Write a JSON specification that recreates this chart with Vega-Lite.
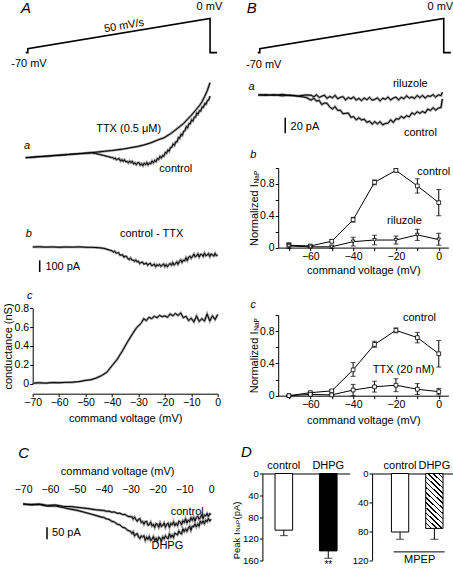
{
"$schema": "https://vega.github.io/schema/vega-lite/v6.json",
"background": "white",
"padding": {"left": 1.7, "top": 0, "right": 0, "bottom": 0},
"data": {"values": [{}]},
"config": {
  "font": "Liberation Sans",
  "view": {"stroke": null},
  "axis": {"grid": false, "domainColor": "black", "tickColor": "black", "labelColor": "black", "titleColor": "black", "titleFontWeight": "normal", "titleFontSize": 11, "labelFontSize": 10.5, "tickSize": 3, "labelFlush": false, "labelOverlap": false, "domainWidth": 1, "tickWidth": 1, "labelPadding": 1},
  "text": {"fontSize": 11, "color": "black"}
},
"datasets": {
  "ramp": [{"k":0,"t":0,"v":-79},{"k":1,"t":0.016,"v":-79},{"k":2,"t":0.016,"v":-70},{"k":3,"t":1.416,"v":0},{"k":4,"t":1.416,"v":-79},{"k":5,"t":1.47,"v":-79}],
  "aa": [
    {"V":-70,"I":0,"s":"TTX"},{"V":-67.5,"I":4,"s":"TTX"},{"V":-65,"I":9,"s":"TTX"},{"V":-62.5,"I":13,"s":"TTX"},{"V":-60,"I":17,"s":"TTX"},{"V":-57.5,"I":21,"s":"TTX"},{"V":-55,"I":25,"s":"TTX"},{"V":-52.5,"I":30,"s":"TTX"},{"V":-50,"I":34,"s":"TTX"},{"V":-47.5,"I":38,"s":"TTX"},{"V":-45,"I":43,"s":"TTX"},{"V":-42.5,"I":49,"s":"TTX"},{"V":-40,"I":55,"s":"TTX"},{"V":-37.5,"I":61,"s":"TTX"},{"V":-35,"I":68,"s":"TTX"},{"V":-32.5,"I":76,"s":"TTX"},{"V":-30,"I":86,"s":"TTX"},{"V":-27.5,"I":96,"s":"TTX"},{"V":-25,"I":109,"s":"TTX"},{"V":-22.5,"I":127,"s":"TTX"},{"V":-20,"I":150,"s":"TTX"},{"V":-17.5,"I":170,"s":"TTX"},{"V":-15,"I":205,"s":"TTX"},{"V":-12.5,"I":248,"s":"TTX"},{"V":-10,"I":293,"s":"TTX"},{"V":-8.5,"I":330,"s":"TTX"},{"V":-7,"I":365,"s":"TTX"},{"V":-5.5,"I":405,"s":"TTX"},{"V":-4,"I":445,"s":"TTX"},{"V":-3,"I":480,"s":"TTX"},{"V":-2,"I":525,"s":"TTX"},{"V":-1,"I":575,"s":"TTX"},{"V":0,"I":641,"s":"TTX"},
    {"V":-70,"I":0,"s":"control"},{"V":-67.5,"I":5,"s":"control"},{"V":-65,"I":8,"s":"control"},{"V":-62.5,"I":13,"s":"control"},{"V":-60,"I":16,"s":"control"},{"V":-57.5,"I":22,"s":"control"},{"V":-55,"I":24,"s":"control"},{"V":-52.5,"I":31,"s":"control"},{"V":-50,"I":33,"s":"control"},{"V":-47.5,"I":39,"s":"control"},{"V":-45,"I":42,"s":"control"},{"V":-43.5,"I":36,"s":"control"},{"V":-42,"I":28,"s":"control"},{"V":-40.5,"I":20,"s":"control"},{"V":-39,"I":11,"s":"control"},{"V":-37.5,"I":2,"s":"control"},
    {"V":-37,"I":2,"s":"control"},{"V":-36.5,"I":-10,"s":"control"},{"V":-36,"I":-2,"s":"control"},{"V":-35.5,"I":-18,"s":"control"},{"V":-35,"I":-11,"s":"control"},{"V":-34.5,"I":-7,"s":"control"},{"V":-34,"I":-29,"s":"control"},{"V":-33.5,"I":-17,"s":"control"},{"V":-33,"I":-31,"s":"control"},{"V":-32.5,"I":-17,"s":"control"},{"V":-32,"I":-35,"s":"control"},{"V":-31.5,"I":-31,"s":"control"},{"V":-31,"I":-45,"s":"control"},{"V":-30.5,"I":-28,"s":"control"},{"V":-30,"I":-42,"s":"control"},{"V":-29.5,"I":-30,"s":"control"},{"V":-29,"I":-53,"s":"control"},{"V":-28.5,"I":-44,"s":"control"},{"V":-28,"I":-60,"s":"control"},{"V":-27.5,"I":-43,"s":"control"},{"V":-27,"I":-41,"s":"control"},{"V":-26.5,"I":-64,"s":"control"},{"V":-26,"I":-51,"s":"control"},{"V":-25.5,"I":-69,"s":"control"},{"V":-25,"I":-47,"s":"control"},{"V":-24.5,"I":-59,"s":"control"},{"V":-24,"I":-41,"s":"control"},{"V":-23.5,"I":-62,"s":"control"},{"V":-23,"I":-45,"s":"control"},{"V":-22.5,"I":-52,"s":"control"},{"V":-22,"I":-28,"s":"control"},{"V":-21.5,"I":-44,"s":"control"},{"V":-21,"I":-22,"s":"control"},{"V":-20.5,"I":-34,"s":"control"},{"V":-20,"I":-7,"s":"control"},{"V":-19.5,"I":-15,"s":"control"},{"V":-19,"I":11,"s":"control"},{"V":-18.5,"I":-3,"s":"control"},{"V":-18,"I":19,"s":"control"},{"V":-17.5,"I":13,"s":"control"},{"V":-17,"I":46,"s":"control"},{"V":-16.5,"I":38,"s":"control"},{"V":-16,"I":66,"s":"control"},{"V":-15.5,"I":55,"s":"control"},{"V":-15,"I":88,"s":"control"},{"V":-14.5,"I":88,"s":"control"},{"V":-14,"I":118,"s":"control"},{"V":-13.5,"I":105,"s":"control"},{"V":-13,"I":136,"s":"control"},{"V":-12.5,"I":135,"s":"control"},{"V":-12,"I":173,"s":"control"},{"V":-11.5,"I":167,"s":"control"},{"V":-11,"I":201,"s":"control"},{"V":-10.5,"I":191,"s":"control"},{"V":-10,"I":227,"s":"control"},{"V":-9.5,"I":230,"s":"control"},{"V":-9,"I":266,"s":"control"},{"V":-8.5,"I":255,"s":"control"},{"V":-8,"I":291,"s":"control"},{"V":-7.5,"I":289,"s":"control"},{"V":-7,"I":324,"s":"control"},{"V":-6.5,"I":313,"s":"control"},{"V":-6,"I":346,"s":"control"},{"V":-5.5,"I":346,"s":"control"},{"V":-5,"I":383,"s":"control"},{"V":-4.5,"I":372,"s":"control"},{"V":-4,"I":403,"s":"control"},{"V":-3.5,"I":398,"s":"control"},{"V":-3,"I":434,"s":"control"},{"V":-2.5,"I":430,"s":"control"},{"V":-2,"I":463,"s":"control"},{"V":-1.5,"I":456,"s":"control"},{"V":-1,"I":489,"s":"control"},{"V":-0.5,"I":491,"s":"control"},{"V":0,"I":527,"s":"control"}
  ],
  "ab": [
    {"V":-70,"I":0},{"V":-67.5,"I":2},{"V":-65,"I":-1},{"V":-62.5,"I":1},{"V":-60,"I":-2},{"V":-57.5,"I":0},{"V":-55,"I":-1},{"V":-52.5,"I":1},{"V":-50,"I":-2},{"V":-47.5,"I":-3},{"V":-45,"I":-6},{"V":-43,"I":-12},{"V":-41.5,"I":-22},
    {"V":-40,"I":-32},{"V":-39.5,"I":-42},{"V":-39,"I":-35},{"V":-38.5,"I":-53},{"V":-38,"I":-50},{"V":-37.5,"I":-48},{"V":-37,"I":-70},{"V":-36.5,"I":-69},{"V":-36,"I":-66},{"V":-35.5,"I":-87},{"V":-35,"I":-79},{"V":-34.5,"I":-80},{"V":-34,"I":-99},{"V":-33.5,"I":-108},{"V":-33,"I":-93},{"V":-32.5,"I":-112},{"V":-32,"I":-111},{"V":-31.5,"I":-123},{"V":-31,"I":-110},{"V":-30.5,"I":-127},{"V":-30,"I":-122},{"V":-29.5,"I":-142},{"V":-29,"I":-132},{"V":-28.5,"I":-128},{"V":-28,"I":-146},{"V":-27.5,"I":-144},{"V":-27,"I":-137},{"V":-26.5,"I":-156},{"V":-26,"I":-145},{"V":-25.5,"I":-139},{"V":-25,"I":-159},{"V":-24.5,"I":-157},{"V":-24,"I":-145},{"V":-23.5,"I":-168},{"V":-23,"I":-152},{"V":-22.5,"I":-160},{"V":-22,"I":-149},{"V":-21.5,"I":-166},{"V":-21,"I":-155},{"V":-20.5,"I":-145},{"V":-20,"I":-167},{"V":-19.5,"I":-150},{"V":-19,"I":-169},{"V":-18.5,"I":-150},{"V":-18,"I":-141},{"V":-17.5,"I":-156},{"V":-17,"I":-133},{"V":-16.5,"I":-154},{"V":-16,"I":-144},{"V":-15.5,"I":-127},{"V":-15,"I":-148},{"V":-14.5,"I":-124},{"V":-14,"I":-110},{"V":-13.5,"I":-132},{"V":-13,"I":-113},{"V":-12.5,"I":-119},{"V":-12,"I":-91},{"V":-11.5,"I":-115},{"V":-11,"I":-88},{"V":-10.5,"I":-79},{"V":-10,"I":-96},{"V":-9.5,"I":-79},{"V":-9,"I":-60},{"V":-8.5,"I":-84},{"V":-8,"I":-76},{"V":-7.5,"I":-58},{"V":-7,"I":-86},{"V":-6.5,"I":-62},{"V":-6,"I":-64},{"V":-5.5,"I":-81},{"V":-5,"I":-53},{"V":-4.5,"I":-75},{"V":-4,"I":-69},{"V":-3.5,"I":-56},{"V":-3,"I":-82},{"V":-2.5,"I":-59},{"V":-2,"I":-65},{"V":-1.5,"I":-78},{"V":-1,"I":-54},{"V":-0.5,"I":-74},{"V":0,"I":-68}
  ],
  "ac": [
    {"V":-70,"g":0.005},{"V":-67.5,"g":0.01},{"V":-65,"g":0.006},{"V":-62.5,"g":0.012},{"V":-60,"g":0.01},{"V":-57.5,"g":0.014},{"V":-55,"g":0.016},{"V":-52.5,"g":0.022},{"V":-50,"g":0.035},{"V":-48,"g":0.042},{"V":-46,"g":0.06},{"V":-44,"g":0.085},{"V":-42,"g":0.12},{"V":-40,"g":0.19},{"V":-38,"g":0.26},{"V":-36,"g":0.35},{"V":-34,"g":0.45},{"V":-32,"g":0.54},{"V":-30.5,"g":0.6},{"V":-29,"g":0.64},{"V":-28,"g":0.69},{"V":-27,"g":0.67},{"V":-26,"g":0.705},{"V":-25,"g":0.69},{"V":-24,"g":0.715},{"V":-23,"g":0.7},{"V":-22,"g":0.725},{"V":-21,"g":0.71},{"V":-20,"g":0.72},{"V":-19,"g":0.705},{"V":-18,"g":0.74},{"V":-17,"g":0.72},{"V":-16,"g":0.745},{"V":-15,"g":0.725},{"V":-14,"g":0.75},{"V":-13,"g":0.7},{"V":-12,"g":0.715},{"V":-11,"g":0.67},{"V":-10,"g":0.695},{"V":-9,"g":0.655},{"V":-8,"g":0.72},{"V":-7,"g":0.66},{"V":-6,"g":0.69},{"V":-5,"g":0.665},{"V":-4,"g":0.74},{"V":-3,"g":0.665},{"V":-2,"g":0.72},{"V":-1,"g":0.68},{"V":0,"g":0.735}
  ],
  "ba": [
    {"V":-70,"I":0,"s":"riluzole"},{"V":-67,"I":0.5,"s":"riluzole"},{"V":-64,"I":-0.5,"s":"riluzole"},{"V":-61,"I":0.8,"s":"riluzole"},{"V":-58,"I":-0.7,"s":"riluzole"},{"V":-55,"I":-1.3,"s":"riluzole"},{"V":-52,"I":0,"s":"riluzole"},
    {"V":-50,"I":-0.3,"s":"riluzole"},{"V":-49,"I":-2.4,"s":"riluzole"},{"V":-48,"I":0.3,"s":"riluzole"},{"V":-47,"I":-3.3,"s":"riluzole"},{"V":-46,"I":-1.6,"s":"riluzole"},{"V":-45,"I":-0.2,"s":"riluzole"},{"V":-44,"I":-4.4,"s":"riluzole"},{"V":-43,"I":-1.8,"s":"riluzole"},{"V":-42,"I":-3.6,"s":"riluzole"},{"V":-41,"I":-0.4,"s":"riluzole"},{"V":-40,"I":-4.8,"s":"riluzole"},{"V":-39,"I":-3.1,"s":"riluzole"},{"V":-38,"I":-2.1,"s":"riluzole"},{"V":-37,"I":-6.4,"s":"riluzole"},{"V":-36,"I":-3.2,"s":"riluzole"},{"V":-35,"I":-4.9,"s":"riluzole"},{"V":-34,"I":-2.5,"s":"riluzole"},{"V":-33,"I":-6.5,"s":"riluzole"},{"V":-32,"I":-4.3,"s":"riluzole"},{"V":-31,"I":-7.3,"s":"riluzole"},{"V":-30,"I":-3.8,"s":"riluzole"},{"V":-29,"I":-6.1,"s":"riluzole"},{"V":-28,"I":-3,"s":"riluzole"},{"V":-27,"I":-6.7,"s":"riluzole"},{"V":-26,"I":-5.7,"s":"riluzole"},{"V":-25,"I":-3.6,"s":"riluzole"},{"V":-24,"I":-7.6,"s":"riluzole"},{"V":-23,"I":-4,"s":"riluzole"},{"V":-22,"I":-5.6,"s":"riluzole"},{"V":-21,"I":-2.6,"s":"riluzole"},{"V":-20,"I":-6.4,"s":"riluzole"},{"V":-19,"I":-3.8,"s":"riluzole"},{"V":-18,"I":-2.7,"s":"riluzole"},{"V":-17,"I":-6.3,"s":"riluzole"},{"V":-16,"I":-2.8,"s":"riluzole"},{"V":-15,"I":-4.8,"s":"riluzole"},{"V":-14,"I":-1,"s":"riluzole"},{"V":-13,"I":-4,"s":"riluzole"},{"V":-12,"I":-2.5,"s":"riluzole"},{"V":-11,"I":-4.4,"s":"riluzole"},{"V":-10,"I":-0.5,"s":"riluzole"},{"V":-9,"I":-3.4,"s":"riluzole"},{"V":-8,"I":-0.5,"s":"riluzole"},{"V":-7,"I":-4,"s":"riluzole"},{"V":-6,"I":-1,"s":"riluzole"},{"V":-5,"I":-1.8,"s":"riluzole"},{"V":-4,"I":0.5,"s":"riluzole"},{"V":-3,"I":-2.7,"s":"riluzole"},{"V":-2,"I":0.2,"s":"riluzole"},{"V":-1,"I":-0.8,"s":"riluzole"},{"V":-0.5,"I":3.5,"s":"riluzole"},
    {"V":-70,"I":0,"s":"control"},{"V":-67,"I":-0.5,"s":"control"},{"V":-64,"I":0.5,"s":"control"},{"V":-61,"I":-1,"s":"control"},{"V":-58,"I":0,"s":"control"},{"V":-55,"I":-1.5,"s":"control"},{"V":-52,"I":-3,"s":"control"},
    {"V":-50,"I":-6.5,"s":"control"},{"V":-49,"I":-4,"s":"control"},{"V":-48,"I":-7.8,"s":"control"},{"V":-47,"I":-7,"s":"control"},{"V":-46,"I":-12.2,"s":"control"},{"V":-45,"I":-10.2,"s":"control"},{"V":-44,"I":-10.7,"s":"control"},{"V":-43,"I":-15.4,"s":"control"},{"V":-42,"I":-17.9,"s":"control"},{"V":-41,"I":-14.9,"s":"control"},{"V":-40,"I":-19.7,"s":"control"},{"V":-39,"I":-19.5,"s":"control"},{"V":-38,"I":-24.1,"s":"control"},{"V":-37,"I":-23.5,"s":"control"},{"V":-36,"I":-23.1,"s":"control"},{"V":-35,"I":-28.6,"s":"control"},{"V":-34,"I":-27.6,"s":"control"},{"V":-33,"I":-31.9,"s":"control"},{"V":-32,"I":-29.2,"s":"control"},{"V":-31,"I":-32,"s":"control"},{"V":-30,"I":-31,"s":"control"},{"V":-29,"I":-35.1,"s":"control"},{"V":-28,"I":-33.5,"s":"control"},{"V":-27,"I":-37.3,"s":"control"},{"V":-26,"I":-34.1,"s":"control"},{"V":-25,"I":-37,"s":"control"},{"V":-24,"I":-34.1,"s":"control"},{"V":-23,"I":-38.3,"s":"control"},{"V":-22,"I":-36.4,"s":"control"},{"V":-21,"I":-36.3,"s":"control"},{"V":-20,"I":-31.9,"s":"control"},{"V":-19,"I":-35.1,"s":"control"},{"V":-18,"I":-30.4,"s":"control"},{"V":-17,"I":-31,"s":"control"},{"V":-16,"I":-27.4,"s":"control"},{"V":-15,"I":-29.7,"s":"control"},{"V":-14,"I":-26.5,"s":"control"},{"V":-13,"I":-28,"s":"control"},{"V":-12,"I":-22.8,"s":"control"},{"V":-11,"I":-24.9,"s":"control"},{"V":-10,"I":-21.5,"s":"control"},{"V":-9,"I":-23.5,"s":"control"},{"V":-8,"I":-21,"s":"control"},{"V":-7,"I":-23,"s":"control"},{"V":-6,"I":-17.9,"s":"control"},{"V":-5,"I":-19.8,"s":"control"},{"V":-4,"I":-16.2,"s":"control"},{"V":-3,"I":-19.5,"s":"control"},{"V":-2,"I":-16.8,"s":"control"},{"V":-1,"I":-16,"s":"control"},{"V":-0.5,"I":-5,"s":"control"}
  ],
  "bb": [
    {"V":-70,"m":0.03,"lo":0.01,"hi":0.05,"s":"control"},{"V":-60,"m":0.02,"lo":0.01,"hi":0.03,"s":"control"},{"V":-50,"m":0.08,"lo":0.06,"hi":0.1,"s":"control"},{"V":-40,"m":0.35,"lo":0.32,"hi":0.38,"s":"control"},{"V":-30,"m":0.82,"lo":0.79,"hi":0.85,"s":"control"},{"V":-20,"m":0.97,"lo":0.95,"hi":0.99,"s":"control"},{"V":-10,"m":0.775,"lo":0.685,"hi":0.865,"s":"control"},{"V":0,"m":0.565,"lo":0.4,"hi":0.73,"s":"control"},
    {"V":-70,"m":0.02,"lo":-0.01,"hi":0.06,"s":"riluzole"},{"V":-60,"m":0.01,"lo":0,"hi":0.02,"s":"riluzole"},{"V":-50,"m":0.01,"lo":-0.01,"hi":0.03,"s":"riluzole"},{"V":-40,"m":0.075,"lo":0.02,"hi":0.13,"s":"riluzole"},{"V":-30,"m":0.095,"lo":0.035,"hi":0.155,"s":"riluzole"},{"V":-20,"m":0.095,"lo":0.045,"hi":0.145,"s":"riluzole"},{"V":-10,"m":0.16,"lo":0.09,"hi":0.23,"s":"riluzole"},{"V":0,"m":0.1,"lo":0.03,"hi":0.18,"s":"riluzole"}
  ],
  "bc": [
    {"V":-70,"m":0,"lo":0,"hi":0,"s":"control"},{"V":-60,"m":0.037,"lo":0.02,"hi":0.055,"s":"control"},{"V":-50,"m":0.06,"lo":0.05,"hi":0.07,"s":"control"},{"V":-40,"m":0.32,"lo":0.24,"hi":0.41,"s":"control"},{"V":-30,"m":0.635,"lo":0.6,"hi":0.675,"s":"control"},{"V":-20,"m":0.81,"lo":0.78,"hi":0.84,"s":"control"},{"V":-10,"m":0.72,"lo":0.655,"hi":0.785,"s":"control"},{"V":0,"m":0.52,"lo":0.355,"hi":0.685,"s":"control"},
    {"V":-70,"m":0,"lo":0,"hi":0,"s":"TTX"},{"V":-60,"m":0.016,"lo":0.005,"hi":0.025,"s":"TTX"},{"V":-50,"m":0.01,"lo":0,"hi":0.02,"s":"TTX"},{"V":-40,"m":0.07,"lo":0,"hi":0.14,"s":"TTX"},{"V":-30,"m":0.11,"lo":0.045,"hi":0.18,"s":"TTX"},{"V":-20,"m":0.13,"lo":0.05,"hi":0.21,"s":"TTX"},{"V":-10,"m":0.08,"lo":0.015,"hi":0.15,"s":"TTX"},{"V":0,"m":0.05,"lo":0.01,"hi":0.09,"s":"TTX"}
  ],
  "cc": [
    {"V":-70,"I":0,"s":"control"},{"V":-67,"I":-2,"s":"control"},{"V":-64,"I":0,"s":"control"},{"V":-61,"I":-6,"s":"control"},{"V":-58,"I":-4,"s":"control"},{"V":-55,"I":-10,"s":"control"},{"V":-52,"I":-11,"s":"control"},{"V":-49,"I":-15,"s":"control"},{"V":-46,"I":-19,"s":"control"},{"V":-43,"I":-24,"s":"control"},{"V":-40,"I":-27,"s":"control"},{"V":-39,"I":-30,"s":"control"},{"V":-38,"I":-30,"s":"control"},{"V":-37,"I":-34,"s":"control"},{"V":-36,"I":-33,"s":"control"},{"V":-35,"I":-39,"s":"control"},{"V":-34,"I":-38,"s":"control"},{"V":-33,"I":-44,"s":"control"},{"V":-32,"I":-44,"s":"control"},{"V":-31,"I":-51,"s":"control"},{"V":-30,"I":-53,"s":"control"},
    {"V":-29.5,"I":-53,"s":"control"},{"V":-29,"I":-63,"s":"control"},{"V":-28.5,"I":-54,"s":"control"},{"V":-28,"I":-64.5,"s":"control"},{"V":-27.5,"I":-72,"s":"control"},{"V":-27,"I":-63,"s":"control"},{"V":-26.5,"I":-61,"s":"control"},{"V":-26,"I":-77.5,"s":"control"},{"V":-25.5,"I":-73,"s":"control"},{"V":-25,"I":-85,"s":"control"},{"V":-24.5,"I":-73,"s":"control"},{"V":-24,"I":-72.5,"s":"control"},{"V":-23.5,"I":-89,"s":"control"},{"V":-23,"I":-86,"s":"control"},{"V":-22.5,"I":-75,"s":"control"},{"V":-22,"I":-91.5,"s":"control"},{"V":-21.5,"I":-85,"s":"control"},{"V":-21,"I":-98,"s":"control"},{"V":-20.5,"I":-82,"s":"control"},{"V":-20,"I":-84.5,"s":"control"},{"V":-19.5,"I":-97,"s":"control"},{"V":-19,"I":-79,"s":"control"},{"V":-18.5,"I":-94,"s":"control"},{"V":-18,"I":-89.5,"s":"control"},{"V":-17.5,"I":-79,"s":"control"},{"V":-17,"I":-97,"s":"control"},{"V":-16.5,"I":-84.5,"s":"control"},{"V":-16,"I":-80,"s":"control"},{"V":-15.5,"I":-97.5,"s":"control"},{"V":-15,"I":-81,"s":"control"},{"V":-14.5,"I":-87,"s":"control"},{"V":-14,"I":-74,"s":"control"},{"V":-13.5,"I":-90,"s":"control"},{"V":-13,"I":-81,"s":"control"},{"V":-12.5,"I":-90,"s":"control"},{"V":-12,"I":-71.5,"s":"control"},{"V":-11.5,"I":-74,"s":"control"},{"V":-11,"I":-87,"s":"control"},{"V":-10.5,"I":-69.5,"s":"control"},{"V":-10,"I":-77,"s":"control"},{"V":-9.5,"I":-61.5,"s":"control"},{"V":-9,"I":-79,"s":"control"},{"V":-8.5,"I":-67,"s":"control"},{"V":-8,"I":-73.5,"s":"control"},{"V":-7.5,"I":-57,"s":"control"},{"V":-7,"I":-68,"s":"control"},{"V":-6.5,"I":-55.5,"s":"control"},{"V":-6,"I":-71,"s":"control"},{"V":-5.5,"I":-56.5,"s":"control"},{"V":-5,"I":-50,"s":"control"},{"V":-4.5,"I":-63.5,"s":"control"},{"V":-4,"I":-57,"s":"control"},{"V":-3.5,"I":-43.5,"s":"control"},{"V":-3,"I":-61,"s":"control"},{"V":-2.5,"I":-45.5,"s":"control"},{"V":-2,"I":-50,"s":"control"},{"V":-1.5,"I":-39.5,"s":"control"},{"V":-1,"I":-52,"s":"control"},{"V":-0.5,"I":-40.5,"s":"control"},{"V":0,"I":-43,"s":"control"},
    {"V":-70,"I":0,"s":"DHPG"},{"V":-67,"I":-4,"s":"DHPG"},{"V":-64,"I":-2,"s":"DHPG"},{"V":-61,"I":-9,"s":"DHPG"},{"V":-58,"I":-8,"s":"DHPG"},{"V":-55,"I":-15,"s":"DHPG"},{"V":-53,"I":-20,"s":"DHPG"},{"V":-50,"I":-26,"s":"DHPG"},{"V":-47,"I":-35,"s":"DHPG"},{"V":-44,"I":-44,"s":"DHPG"},{"V":-41,"I":-54,"s":"DHPG"},{"V":-40,"I":-56,"s":"DHPG"},{"V":-39,"I":-62,"s":"DHPG"},{"V":-38,"I":-64,"s":"DHPG"},{"V":-37,"I":-72,"s":"DHPG"},{"V":-36,"I":-75,"s":"DHPG"},{"V":-35,"I":-84,"s":"DHPG"},{"V":-34,"I":-87,"s":"DHPG"},{"V":-33,"I":-97,"s":"DHPG"},{"V":-32,"I":-100,"s":"DHPG"},{"V":-31,"I":-110,"s":"DHPG"},{"V":-30,"I":-114,"s":"DHPG"},
    {"V":-29.5,"I":-123,"s":"DHPG"},{"V":-29,"I":-116,"s":"DHPG"},{"V":-28.5,"I":-133,"s":"DHPG"},{"V":-28,"I":-126,"s":"DHPG"},{"V":-27.5,"I":-123.5,"s":"DHPG"},{"V":-27,"I":-137.5,"s":"DHPG"},{"V":-26.5,"I":-144,"s":"DHPG"},{"V":-26,"I":-133,"s":"DHPG"},{"V":-25.5,"I":-137.5,"s":"DHPG"},{"V":-25,"I":-132,"s":"DHPG"},{"V":-24.5,"I":-151.5,"s":"DHPG"},{"V":-24,"I":-138,"s":"DHPG"},{"V":-23.5,"I":-147,"s":"DHPG"},{"V":-23,"I":-135.5,"s":"DHPG"},{"V":-22.5,"I":-152.5,"s":"DHPG"},{"V":-22,"I":-147,"s":"DHPG"},{"V":-21.5,"I":-136,"s":"DHPG"},{"V":-21,"I":-152,"s":"DHPG"},{"V":-20.5,"I":-143,"s":"DHPG"},{"V":-20,"I":-155,"s":"DHPG"},{"V":-19.5,"I":-138.5,"s":"DHPG"},{"V":-19,"I":-143,"s":"DHPG"},{"V":-18.5,"I":-155,"s":"DHPG"},{"V":-18,"I":-137,"s":"DHPG"},{"V":-17.5,"I":-145.5,"s":"DHPG"},{"V":-17,"I":-132,"s":"DHPG"},{"V":-16.5,"I":-140.5,"s":"DHPG"},{"V":-16,"I":-145,"s":"DHPG"},{"V":-15.5,"I":-124,"s":"DHPG"},{"V":-15,"I":-138.5,"s":"DHPG"},{"V":-14.5,"I":-129,"s":"DHPG"},{"V":-14,"I":-140,"s":"DHPG"},{"V":-13.5,"I":-121,"s":"DHPG"},{"V":-13,"I":-124.5,"s":"DHPG"},{"V":-12.5,"I":-129,"s":"DHPG"},{"V":-12,"I":-112,"s":"DHPG"},{"V":-11.5,"I":-121.5,"s":"DHPG"},{"V":-11,"I":-125,"s":"DHPG"},{"V":-10.5,"I":-103.5,"s":"DHPG"},{"V":-10,"I":-115,"s":"DHPG"},{"V":-9.5,"I":-103.5,"s":"DHPG"},{"V":-9,"I":-114,"s":"DHPG"},{"V":-8.5,"I":-101.5,"s":"DHPG"},{"V":-8,"I":-92,"s":"DHPG"},{"V":-7.5,"I":-109.5,"s":"DHPG"},{"V":-7,"I":-92,"s":"DHPG"},{"V":-6.5,"I":-94.5,"s":"DHPG"},{"V":-6,"I":-83,"s":"DHPG"},{"V":-5.5,"I":-95.5,"s":"DHPG"},{"V":-5,"I":-83,"s":"DHPG"},{"V":-4.5,"I":-92.5,"s":"DHPG"},{"V":-4,"I":-71,"s":"DHPG"},{"V":-3.5,"I":-80.5,"s":"DHPG"},{"V":-3,"I":-70.5,"s":"DHPG"},{"V":-2.5,"I":-82,"s":"DHPG"},{"V":-2,"I":-67,"s":"DHPG"},{"V":-1.5,"I":-73.5,"s":"DHPG"},{"V":-1,"I":-60.5,"s":"DHPG"},{"V":-0.5,"I":-71,"s":"DHPG"},{"V":0,"I":-63,"s":"DHPG"}
  ],
  "d1": [{"cond":"control","val":104,"hi":114},{"cond":"DHPG","val":142,"hi":155.5}],
  "d2": [{"cond":"control","val":81,"hi":91},{"cond":"DHPG","val":76,"hi":91}]
},
"spacing": 18.5,
"vconcat": [
 {"hconcat": [
  {"vconcat": [
   {"width": 185, "height": 65, "layer": [
     {"data": {"name": "ramp"}, "mark": {"type": "line", "color": "black", "strokeWidth": 1.6},
      "encoding": {"x": {"field": "t", "type": "quantitative", "scale": {"domain": [0, 1.5], "range": [-7, 188.3], "nice": false, "zero": false}, "axis": null},
                   "y": {"field": "v", "type": "quantitative", "scale": {"domain": [-109.8, 40], "nice": false, "zero": false}, "axis": null},
                   "order": {"field": "k", "type": "quantitative"}}},
     {"mark": {"type": "text", "text": "A", "fontSize": 15, "fontStyle": "italic", "align": "center", "baseline": "middle"}, "encoding": {"x": {"datum": 0.002, "axis": null}, "y": {"datum": 24.6, "axis": null}}},
     {"mark": {"type": "text", "text": "0 mV", "align": "center", "baseline": "middle"}, "encoding": {"x": {"datum": 1.411, "axis": null}, "y": {"datum": 26, "axis": null}}},
     {"mark": {"type": "text", "text": "-70 mV", "align": "center", "baseline": "middle"}, "encoding": {"x": {"datum": 0.025, "axis": null}, "y": {"datum": -105.9, "axis": null}}},
     {"mark": {"type": "text", "text": "50 mV/s", "align": "center", "baseline": "middle", "angle": 350.5}, "encoding": {"x": {"datum": 0.755, "axis": null}, "y": {"datum": -17.6, "axis": null}}}
   ]},
   {"width": 185, "height": 135, "layer": [
     {"data": {"name": "aa"}, "mark": {"type": "line", "color": "#8f8f8f", "strokeWidth": 2.4},
      "encoding": {"x": {"field": "V", "type": "quantitative", "scale": {"domain": [-70, 0], "range": [-7, 177.3], "nice": false, "zero": false}, "axis": null},
                   "y": {"field": "I", "type": "quantitative", "scale": {"domain": [-370, 783.8], "nice": false, "zero": false}, "axis": null},
                   "detail": {"field": "s"}}},
     {"data": {"name": "aa"}, "mark": {"type": "line", "color": "black", "strokeWidth": 1},
      "encoding": {"x": {"field": "V", "type": "quantitative", "axis": null}, "y": {"field": "I", "type": "quantitative", "axis": null}, "detail": {"field": "s"}}},
     {"mark": {"type": "text", "text": "a", "fontStyle": "italic", "align": "center", "baseline": "middle"}, "encoding": {"x": {"datum": -69.5, "axis": null}, "y": {"datum": 100, "axis": null}}},
     {"mark": {"type": "text", "text": "TTX (0.5 μM)", "align": "center", "baseline": "middle"}, "encoding": {"x": {"datum": -30.9, "axis": null}, "y": {"datum": 245, "axis": null}}},
     {"mark": {"type": "text", "text": "control", "align": "center", "baseline": "middle"}, "encoding": {"x": {"datum": -13, "axis": null}, "y": {"datum": -99, "axis": null}}}
   ]},
   {"width": 185, "height": 90, "layer": [
     {"data": {"name": "ab"}, "mark": {"type": "line", "color": "#8f8f8f", "strokeWidth": 2.4},
      "encoding": {"x": {"field": "V", "type": "quantitative", "scale": {"domain": [-70, 0], "nice": false, "zero": false}, "axis": null},
                   "y": {"field": "I", "type": "quantitative", "scale": {"domain": [-376.1, 393.2], "nice": false, "zero": false}, "axis": null}}},
     {"data": {"name": "ab"}, "mark": {"type": "line", "color": "black", "strokeWidth": 1},
      "encoding": {"x": {"field": "V", "type": "quantitative", "axis": null}, "y": {"field": "I", "type": "quantitative", "axis": null}}},
     {"mark": {"type": "rule", "color": "black", "strokeWidth": 1.5}, "encoding": {"x": {"datum": -67.35, "axis": null}, "y": {"datum": -113.7, "axis": null}, "y2": {"datum": -213.7}}},
     {"mark": {"type": "text", "text": "b", "fontStyle": "italic", "align": "center", "baseline": "middle"}, "encoding": {"x": {"datum": -71.5, "axis": null}, "y": {"datum": 108.5, "axis": null}}},
     {"mark": {"type": "text", "text": "control - TTX", "align": "center", "baseline": "middle"}, "encoding": {"x": {"datum": -25, "axis": null}, "y": {"datum": 108.5, "axis": null}}},
     {"mark": {"type": "text", "text": "100 pA", "align": "left", "baseline": "middle"}, "encoding": {"x": {"datum": -65.2, "axis": null}, "y": {"datum": -171, "axis": null}}}
   ]},
   {"width": 185, "height": 102.7, "resolve": {"axis": {"x": "independent", "y": "independent"}}, "layer": [
     {"data": {"name": "ac"}, "mark": {"type": "line", "color": "#8f8f8f", "strokeWidth": 2.4},
      "encoding": {"x": {"field": "V", "type": "quantitative", "scale": {"domain": [-70, 0], "nice": false, "zero": false}, "axis": {"values": [-70, -60, -50, -40, -30, -20, -10, 0], "title": "command voltage (mV)", "titlePadding": 4}},
                   "y": {"field": "g", "type": "quantitative", "scale": {"domain": [0, 0.8], "range": [92.7, 17.3], "nice": false, "zero": false}, "axis": {"values": [0, 0.2, 0.4, 0.6, 0.8], "format": ".1~f", "title": "conductance (nS)", "titlePadding": 1}}}},
     {"data": {"name": "ac"}, "mark": {"type": "line", "color": "black", "strokeWidth": 1},
      "encoding": {"x": {"field": "V", "type": "quantitative", "axis": null}, "y": {"field": "g", "type": "quantitative", "axis": null}}},
     {"mark": {"type": "text", "text": "c", "fontStyle": "italic", "align": "center", "baseline": "middle"}, "encoding": {"x": {"datum": -71.1, "axis": null}, "y": {"datum": 0.93, "axis": null}}}
   ]}
  ], "spacing": 0, "bounds": "flush"},
  {"vconcat": [
   {"width": 170.2, "height": 75, "layer": [
     {"data": {"name": "ramp"}, "mark": {"type": "line", "color": "black", "strokeWidth": 1.6},
      "encoding": {"x": {"field": "t", "type": "quantitative", "scale": {"domain": [0, 1.5], "range": [-20.5, 176.6], "nice": false, "zero": false}, "axis": null},
                   "y": {"field": "v", "type": "quantitative", "scale": {"domain": [-132.8, 40], "nice": false, "zero": false}, "axis": null},
                   "order": {"field": "k", "type": "quantitative"}}},
     {"mark": {"type": "text", "text": "B", "fontSize": 15, "fontStyle": "italic", "align": "center", "baseline": "middle"}, "encoding": {"x": {"datum": -0.046, "axis": null}, "y": {"datum": 24.6, "axis": null}}},
     {"mark": {"type": "text", "text": "0 mV", "align": "center", "baseline": "middle"}, "encoding": {"x": {"datum": 1.39, "axis": null}, "y": {"datum": 26, "axis": null}}},
     {"mark": {"type": "text", "text": "-70 mV", "align": "center", "baseline": "middle"}, "encoding": {"x": {"datum": 0.046, "axis": null}, "y": {"datum": -107.5, "axis": null}}}
   ]},
   {"width": 170.2, "height": 91.7, "layer": [
     {"data": {"name": "ba"}, "mark": {"type": "line", "color": "#8f8f8f", "strokeWidth": 2.4},
      "encoding": {"x": {"field": "V", "type": "quantitative", "scale": {"domain": [-70, 0], "range": [-20, 165.5], "nice": false, "zero": false}, "axis": null},
                   "y": {"field": "I", "type": "quantitative", "scale": {"domain": [-93.2, 24.36], "nice": false, "zero": false}, "axis": null},
                   "detail": {"field": "s"}}},
     {"data": {"name": "ba"}, "mark": {"type": "line", "color": "black", "strokeWidth": 1},
      "encoding": {"x": {"field": "V", "type": "quantitative", "axis": null}, "y": {"field": "I", "type": "quantitative", "axis": null}, "detail": {"field": "s"}}},
     {"mark": {"type": "rule", "color": "black", "strokeWidth": 1.5}, "encoding": {"x": {"datum": -59.8, "axis": null}, "y": {"datum": -29.1, "axis": null}, "y2": {"datum": -49.1}}},
     {"mark": {"type": "text", "text": "a", "fontStyle": "italic", "align": "center", "baseline": "middle"}, "encoding": {"x": {"datum": -72.5, "axis": null}, "y": {"datum": 10.3, "axis": null}}},
     {"mark": {"type": "text", "text": "riluzole", "align": "center", "baseline": "middle"}, "encoding": {"x": {"datum": -12.6, "axis": null}, "y": {"datum": 13.7, "axis": null}}},
     {"mark": {"type": "text", "text": "control", "align": "center", "baseline": "middle"}, "encoding": {"x": {"datum": -8.8, "axis": null}, "y": {"datum": -48.3, "axis": null}}},
     {"mark": {"type": "text", "text": "20 pA", "align": "left", "baseline": "middle"}, "encoding": {"x": {"datum": -57.8, "axis": null}, "y": {"datum": -40.6, "axis": null}}}
   ]},
   {"width": 170.2, "height": 79.6, "resolve": {"axis": {"x": "independent", "y": "independent"}}, "layer": [
     {"data": {"name": "bb"}, "mark": {"type": "line", "color": "black", "strokeWidth": 1},
      "encoding": {"x": {"field": "V", "type": "quantitative", "scale": {"domain": [-75, 4.5], "nice": false, "zero": false}, "axis": {"values": [-70, -60, -50, -40, -30, -20, -10, 0], "labelExpr": "datum.value % 20 == 0 ? datum.label : ''", "title": "command voltage (mV)", "titlePadding": 2}},
                   "y": {"field": "m", "type": "quantitative", "scale": {"domain": [0, 1], "nice": false, "zero": false}, "axis": {"values": [0, 0.2, 0.4, 0.6, 0.8, 1], "format": ".1~f", "labelExpr": "(datum.value == 0 || datum.value == 0.4 || datum.value == 0.8) ? datum.label : ''", "title": "Normalized I", "titleX": -18.5, "titleY": 46.6}},
                   "detail": {"field": "s"}}},
     {"data": {"name": "bb"}, "mark": {"type": "rule", "color": "black", "strokeWidth": 1}, "encoding": {"x": {"field": "V", "type": "quantitative", "axis": null}, "y": {"field": "lo", "type": "quantitative", "axis": null}, "y2": {"field": "hi"}}},
     {"data": {"name": "bb"}, "mark": {"type": "tick", "orient": "horizontal", "color": "black", "size": 5, "thickness": 1}, "encoding": {"x": {"field": "V", "type": "quantitative", "axis": null}, "y": {"field": "lo", "type": "quantitative", "axis": null}}},
     {"data": {"name": "bb"}, "mark": {"type": "tick", "orient": "horizontal", "color": "black", "size": 5, "thickness": 1}, "encoding": {"x": {"field": "V", "type": "quantitative", "axis": null}, "y": {"field": "hi", "type": "quantitative", "axis": null}}},
     {"data": {"name": "bb"}, "mark": {"type": "point", "filled": true, "fill": "white", "stroke": "black", "strokeWidth": 0.8, "size": 14, "opacity": 1},
      "encoding": {"x": {"field": "V", "type": "quantitative", "axis": null}, "y": {"field": "m", "type": "quantitative", "axis": null}, "shape": {"field": "s", "type": "nominal", "scale": {"domain": ["control", "riluzole"], "range": ["square", "triangle-down"]}, "legend": null}}},
     {"mark": {"type": "text", "text": "b", "fontStyle": "italic", "align": "center", "baseline": "middle"}, "encoding": {"x": {"datum": -86.6, "axis": null}, "y": {"datum": 1.16, "axis": null}}},
     {"mark": {"type": "text", "text": "control", "align": "center", "baseline": "middle"}, "encoding": {"x": {"datum": -2.3, "axis": null}, "y": {"datum": 0.95, "axis": null}}},
     {"mark": {"type": "text", "text": "riluzole", "align": "center", "baseline": "middle"}, "encoding": {"x": {"datum": -16, "axis": null}, "y": {"datum": 0.33, "axis": null}}},
     {"mark": {"type": "text", "text": "NaP", "fontSize": 6.5, "angle": 270, "align": "center", "baseline": "middle", "xOffset": -21.5}, "encoding": {"x": {"datum": -75, "axis": null}, "y": {"datum": 0.886, "axis": null}}}
   ]},
   {"width": 170.2, "height": 147.7, "resolve": {"axis": {"x": "independent", "y": "independent"}}, "layer": [
     {"data": {"name": "bc"}, "mark": {"type": "line", "color": "black", "strokeWidth": 1},
      "encoding": {"x": {"field": "V", "type": "quantitative", "scale": {"domain": [-75, 4.5], "nice": false, "zero": false}, "axis": {"values": [-70, -60, -50, -40, -30, -20, -10, 0], "labelExpr": "datum.value % 20 == 0 ? datum.label : ''", "title": "command voltage (mV)", "titlePadding": 4}},
                   "y": {"field": "m", "type": "quantitative", "scale": {"domain": [0, 1], "range": [147.7, 67], "nice": false, "zero": false}, "axis": {"values": [0, 0.2, 0.4, 0.6, 0.8, 1], "format": ".1~f", "labelExpr": "(datum.value == 0 || datum.value == 0.4 || datum.value == 0.8) ? datum.label : ''", "title": "Normalized I", "titleX": -18.5, "titleY": 113.9}},
                   "detail": {"field": "s"}}},
     {"data": {"name": "bc"}, "mark": {"type": "rule", "color": "black", "strokeWidth": 1}, "encoding": {"x": {"field": "V", "type": "quantitative", "axis": null}, "y": {"field": "lo", "type": "quantitative", "axis": null}, "y2": {"field": "hi"}}},
     {"data": {"name": "bc"}, "mark": {"type": "tick", "orient": "horizontal", "color": "black", "size": 5, "thickness": 1}, "encoding": {"x": {"field": "V", "type": "quantitative", "axis": null}, "y": {"field": "lo", "type": "quantitative", "axis": null}}},
     {"data": {"name": "bc"}, "mark": {"type": "tick", "orient": "horizontal", "color": "black", "size": 5, "thickness": 1}, "encoding": {"x": {"field": "V", "type": "quantitative", "axis": null}, "y": {"field": "hi", "type": "quantitative", "axis": null}}},
     {"data": {"name": "bc"}, "mark": {"type": "point", "filled": true, "fill": "white", "stroke": "black", "strokeWidth": 0.8, "size": 14, "opacity": 1},
      "encoding": {"x": {"field": "V", "type": "quantitative", "axis": null}, "y": {"field": "m", "type": "quantitative", "axis": null}, "shape": {"field": "s", "type": "nominal", "scale": {"domain": ["control", "TTX"], "range": ["square", "triangle-down"]}, "legend": null}}},
     {"mark": {"type": "text", "text": "c", "fontStyle": "italic", "align": "center", "baseline": "middle"}, "encoding": {"x": {"datum": -86.7, "axis": null}, "y": {"datum": 1.124, "axis": null}}},
     {"mark": {"type": "text", "text": "control", "align": "center", "baseline": "middle"}, "encoding": {"x": {"datum": -9, "axis": null}, "y": {"datum": 0.967, "axis": null}}},
     {"mark": {"type": "text", "text": "TTX (20 nM)", "align": "center", "baseline": "middle"}, "encoding": {"x": {"datum": -16.4, "axis": null}, "y": {"datum": 0.318, "axis": null}}},
     {"mark": {"type": "text", "text": "NaP", "fontSize": 6.5, "angle": 270, "align": "center", "baseline": "middle", "xOffset": -21.5}, "encoding": {"x": {"datum": -75, "axis": null}, "y": {"datum": 0.884, "axis": null}}}
   ]}
  ], "spacing": 0, "bounds": "flush"}
 ], "spacing": 22.5},
 {"hconcat": [
   {"width": 207.7, "height": 90, "resolve": {"axis": {"x": "independent", "y": "independent"}}, "layer": [
     {"data": {"name": "cc"}, "mark": {"type": "line", "color": "#8f8f8f", "strokeWidth": 2.4},
      "encoding": {"x": {"field": "V", "type": "quantitative", "scale": {"domain": [-70, 0], "range": [-9.6, 178.4], "nice": false, "zero": false}, "axis": {"orient": "top", "values": [-70, -60, -50, -40, -30, -20, -10, 0], "title": "command voltage (mV)", "ticks": false, "tickSize": 0, "domain": false, "offset": -21.5, "labelPadding": 0, "titlePadding": 8}},
                   "y": {"field": "I", "type": "quantitative", "scale": {"domain": [-247.9, 127.1], "nice": false, "zero": false}, "axis": null},
                   "detail": {"field": "s"}}},
     {"data": {"name": "cc"}, "mark": {"type": "line", "color": "black", "strokeWidth": 1},
      "encoding": {"x": {"field": "V", "type": "quantitative", "axis": null}, "y": {"field": "I", "type": "quantitative", "axis": null}, "detail": {"field": "s"}}},
     {"mark": {"type": "rule", "color": "black", "strokeWidth": 1.5}, "encoding": {"x": {"datum": -61.1, "axis": null}, "y": {"datum": -97, "axis": null}, "y2": {"datum": -147}}},
     {"mark": {"type": "text", "text": "C", "fontSize": 15, "fontStyle": "italic", "align": "center", "baseline": "middle"}, "encoding": {"x": {"datum": -69.8, "axis": null}, "y": {"datum": 211, "axis": null}}},
     {"mark": {"type": "text", "text": "control", "align": "center", "baseline": "middle"}, "encoding": {"x": {"datum": -8.9, "axis": null}, "y": {"datum": -32, "axis": null}}},
     {"mark": {"type": "text", "text": "DHPG", "align": "center", "baseline": "middle"}, "encoding": {"x": {"datum": -16.3, "axis": null}, "y": {"datum": -175, "axis": null}}},
     {"mark": {"type": "text", "text": "50 pA", "align": "left", "baseline": "middle"}, "encoding": {"x": {"datum": -59.2, "axis": null}, "y": {"datum": -121, "axis": null}}}
   ]},
   {"width": 87.3, "height": 87.2, "resolve": {"axis": {"x": "independent", "y": "independent"}}, "layer": [
     {"data": {"name": "d1"}, "mark": {"type": "rule", "color": "black", "strokeWidth": 1},
      "encoding": {"x": {"field": "cond", "type": "nominal", "scale": {"domain": ["control", "DHPG"], "paddingInner": 0.604, "paddingOuter": 0.284}, "axis": {"orient": "top", "title": null, "ticks": false, "labelAngle": 0, "labelPadding": 3, "labelFontSize": 11}},
                   "y": {"field": "val", "type": "quantitative", "scale": {"domain": [0, 160], "reverse": true, "nice": false}, "axis": {"values": [0, 40, 80, 120, 160], "title": null, "labelFontSize": 9.5}},
                   "y2": {"field": "hi"}}},
     {"data": {"name": "d1"}, "mark": {"type": "tick", "color": "black", "size": 8, "thickness": 1}, "encoding": {"x": {"field": "cond", "type": "nominal", "axis": null}, "y": {"field": "hi", "type": "quantitative", "axis": null}}},
     {"data": {"name": "d1"}, "mark": {"type": "bar", "stroke": "black", "strokeWidth": 1},
      "encoding": {"x": {"field": "cond", "type": "nominal", "axis": null}, "y": {"field": "val", "type": "quantitative", "axis": null}, "fill": {"condition": {"test": "datum.cond === 'DHPG'", "value": "black"}, "value": "white"}}},
     {"mark": {"type": "text", "text": "D", "fontSize": 15, "fontStyle": "italic", "align": "center", "baseline": "middle", "xOffset": -37.3}, "encoding": {"x": {"datum": "control", "axis": null}, "y": {"datum": -40, "axis": null}}},
     {"mark": {"type": "text", "text": "**", "fontSize": 10, "align": "center", "baseline": "top"}, "encoding": {"x": {"datum": "DHPG", "axis": null}, "y": {"datum": 159, "axis": null}}},
     {"mark": {"type": "text", "text": "Peak I", "fontSize": 9.5, "angle": 270, "align": "left", "baseline": "middle", "xOffset": -47}, "encoding": {"x": {"datum": "control", "axis": null}, "y": {"datum": 157.4, "axis": null}}},
     {"mark": {"type": "text", "text": "NaP", "fontSize": 6, "angle": 270, "align": "left", "baseline": "middle", "xOffset": -45.5}, "encoding": {"x": {"datum": "control", "axis": null}, "y": {"datum": 106.8, "axis": null}}},
     {"mark": {"type": "text", "text": "(pA)", "fontSize": 9.5, "angle": 270, "align": "left", "baseline": "middle", "xOffset": -47}, "encoding": {"x": {"datum": "control", "axis": null}, "y": {"datum": 84.4, "axis": null}}}
   ]},
   {"width": 82, "height": 86.7, "resolve": {"axis": {"x": "independent", "y": "independent"}}, "layer": [
     {"data": {"name": "d2"}, "mark": {"type": "rule", "color": "black", "strokeWidth": 1},
      "encoding": {"x": {"field": "cond", "type": "nominal", "scale": {"domain": ["control", "DHPG"], "paddingInner": 0.496, "paddingOuter": 0.443, "align": 0.636}, "axis": {"orient": "top", "title": null, "ticks": false, "labelAngle": 0, "labelPadding": 3, "labelFontSize": 11}},
                   "y": {"field": "val", "type": "quantitative", "scale": {"domain": [0, 120], "reverse": true, "nice": false}, "axis": {"values": [0, 40, 80, 120], "title": null, "labelFontSize": 9.5}},
                   "y2": {"field": "hi"}}},
     {"data": {"name": "d2"}, "mark": {"type": "tick", "color": "black", "size": 8, "thickness": 1}, "encoding": {"x": {"field": "cond", "type": "nominal", "axis": null}, "y": {"field": "hi", "type": "quantitative", "axis": null}}},
     {"data": {"name": "d2"}, "transform": [{"filter": "datum.cond === 'control'"}], "mark": {"type": "bar", "stroke": "black", "strokeWidth": 1, "fill": "white"},
      "encoding": {"x": {"field": "cond", "type": "nominal", "axis": null}, "y": {"field": "val", "type": "quantitative", "axis": null}}},
     {"data": {"name": "d2"}, "transform": [{"filter": "datum.cond === 'DHPG'"}], "mark": {"type": "bar", "stroke": "black", "strokeWidth": 1,
        "fill": {"gradient": "linear", "x1": 1, "y1": 0, "x2": 0.64, "y2": 1.2, "stops": [
          {"offset": 0, "color": "white"}, {"offset": 0.05, "color": "white"}, {"offset": 0.05, "color": "black"}, {"offset": 0.0714, "color": "black"},
          {"offset": 0.0714, "color": "white"}, {"offset": 0.1214, "color": "white"}, {"offset": 0.1214, "color": "black"}, {"offset": 0.1429, "color": "black"},
          {"offset": 0.1429, "color": "white"}, {"offset": 0.1929, "color": "white"}, {"offset": 0.1929, "color": "black"}, {"offset": 0.2143, "color": "black"},
          {"offset": 0.2143, "color": "white"}, {"offset": 0.2643, "color": "white"}, {"offset": 0.2643, "color": "black"}, {"offset": 0.2857, "color": "black"},
          {"offset": 0.2857, "color": "white"}, {"offset": 0.3357, "color": "white"}, {"offset": 0.3357, "color": "black"}, {"offset": 0.3571, "color": "black"},
          {"offset": 0.3571, "color": "white"}, {"offset": 0.4071, "color": "white"}, {"offset": 0.4071, "color": "black"}, {"offset": 0.4286, "color": "black"},
          {"offset": 0.4286, "color": "white"}, {"offset": 0.4786, "color": "white"}, {"offset": 0.4786, "color": "black"}, {"offset": 0.5, "color": "black"},
          {"offset": 0.5, "color": "white"}, {"offset": 0.55, "color": "white"}, {"offset": 0.55, "color": "black"}, {"offset": 0.5714, "color": "black"},
          {"offset": 0.5714, "color": "white"}, {"offset": 0.6214, "color": "white"}, {"offset": 0.6214, "color": "black"}, {"offset": 0.6429, "color": "black"},
          {"offset": 0.6429, "color": "white"}, {"offset": 0.6929, "color": "white"}, {"offset": 0.6929, "color": "black"}, {"offset": 0.7143, "color": "black"},
          {"offset": 0.7143, "color": "white"}, {"offset": 0.7643, "color": "white"}, {"offset": 0.7643, "color": "black"}, {"offset": 0.7857, "color": "black"},
          {"offset": 0.7857, "color": "white"}, {"offset": 0.8357, "color": "white"}, {"offset": 0.8357, "color": "black"}, {"offset": 0.8571, "color": "black"},
          {"offset": 0.8571, "color": "white"}, {"offset": 0.9071, "color": "white"}, {"offset": 0.9071, "color": "black"}, {"offset": 0.9286, "color": "black"},
          {"offset": 0.9286, "color": "white"}, {"offset": 0.9786, "color": "white"}, {"offset": 0.9786, "color": "black"}, {"offset": 1, "color": "black"}]}},
      "encoding": {"x": {"field": "cond", "type": "nominal", "axis": null}, "y": {"field": "val", "type": "quantitative", "axis": null}}},
     {"mark": {"type": "rule", "color": "black", "strokeWidth": 1, "xOffset": -6.4, "x2Offset": 10.3}, "encoding": {"x": {"datum": "control", "axis": null}, "x2": {"datum": "DHPG"}, "y": {"datum": 108.5, "axis": null}}},
     {"mark": {"type": "text", "text": "MPEP", "align": "center", "baseline": "middle", "xOffset": 19.6}, "encoding": {"x": {"datum": "control", "axis": null}, "y": {"datum": 120, "axis": null}}}
   ]}
 ], "spacing": 21.7, "bounds": "flush"}
]
}
